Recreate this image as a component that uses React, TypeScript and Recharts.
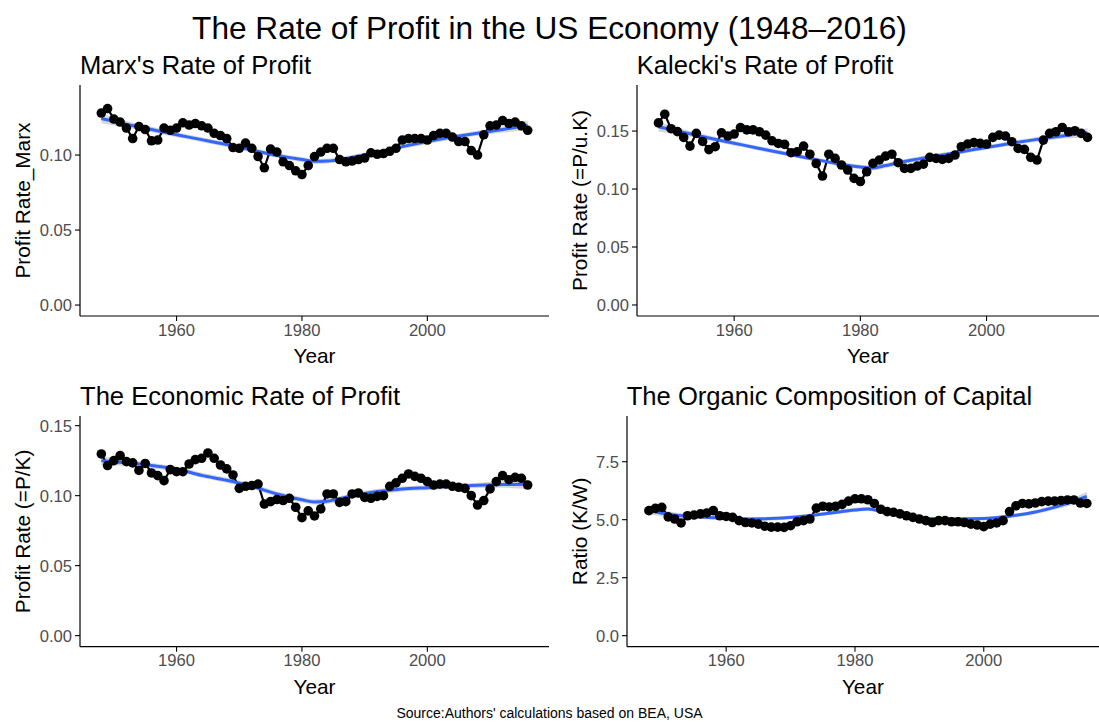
import { ComposedChart, Line, Area, XAxis, YAxis } from 'recharts'

const YEARS = Array.from({ length: 69 }, (_, i) => 1948 + i)

// Marx's rate of profit
const MARX = [
  0.128, 0.131, 0.124, 0.122, 0.118, 0.111, 0.119, 0.117, 0.1095, 0.11,
  0.118, 0.1165, 0.118, 0.1215, 0.12, 0.121, 0.1195, 0.118, 0.1145, 0.113,
  0.111, 0.105, 0.1045, 0.108, 0.1045, 0.099, 0.0915, 0.104, 0.102, 0.0955,
  0.093, 0.0895, 0.087, 0.093, 0.099, 0.102, 0.1045, 0.1045, 0.097, 0.0955,
  0.096, 0.097, 0.098, 0.1015, 0.1005, 0.101, 0.1025, 0.1045, 0.11, 0.111,
  0.111, 0.111, 0.11, 0.113, 0.1145, 0.1145, 0.112, 0.109, 0.109, 0.103,
  0.1, 0.1135, 0.1195, 0.12, 0.123, 0.121, 0.122, 0.1195, 0.1165,
]

// Kalecki's rate of profit
const KALECKI = [
  0.157, 0.1645, 0.152, 0.1495, 0.1445, 0.137, 0.148, 0.141, 0.134, 0.1365,
  0.1485, 0.1457, 0.1474, 0.153, 0.151, 0.151, 0.1494, 0.1465, 0.1416, 0.1393,
  0.1385, 0.1313, 0.1322, 0.137, 0.13, 0.122, 0.1112, 0.13, 0.1264, 0.1207,
  0.1164, 0.1092, 0.1065, 0.1149, 0.1221, 0.125, 0.1284, 0.13, 0.1227, 0.1178,
  0.1178, 0.1198, 0.1215, 0.1273, 0.1264, 0.1255, 0.1264, 0.1293, 0.1365, 0.1388,
  0.14, 0.1394, 0.1388, 0.1445, 0.1465, 0.1457, 0.1408, 0.135, 0.1342, 0.1273,
  0.125, 0.1422, 0.148, 0.1494, 0.1531, 0.1494, 0.1503, 0.148, 0.1445,
]

// economic rate of profit
const ECONOMIC = [
  0.1298, 0.1215, 0.125, 0.1286, 0.1243, 0.1234, 0.118, 0.123, 0.1162, 0.1143,
  0.1107, 0.1186, 0.1171, 0.1171, 0.1226, 0.1257, 0.1267, 0.1305, 0.1267, 0.1219,
  0.1191, 0.1148, 0.1052, 0.1067, 0.1072, 0.1083, 0.094, 0.0957, 0.0972, 0.0965,
  0.0981, 0.0917, 0.0843, 0.0891, 0.0855, 0.0905, 0.1012, 0.1012, 0.0952, 0.0957,
  0.1012, 0.1019, 0.0988, 0.0981, 0.0995, 0.1, 0.1067, 0.1091, 0.1124, 0.1155,
  0.1138, 0.1124, 0.11, 0.1076, 0.1083, 0.1083, 0.1067, 0.106, 0.1052, 0.1,
  0.0933, 0.0965, 0.1048, 0.11, 0.1143, 0.1114, 0.1131, 0.1124, 0.1076,
]

// organic composition of capital (K/W)
const OCC = [
  5.39, 5.49, 5.53, 5.12, 5.03, 4.86, 5.17, 5.2, 5.25, 5.29,
  5.39, 5.17, 5.14, 5.1, 4.96, 4.88, 4.86, 4.81, 4.72, 4.68,
  4.68, 4.67, 4.74, 4.91, 4.96, 5.03, 5.5, 5.58, 5.55, 5.58,
  5.66, 5.8, 5.9, 5.9, 5.86, 5.7, 5.45, 5.35, 5.32, 5.25,
  5.17, 5.1, 5.03, 4.96, 4.88, 4.96, 4.96, 4.91, 4.91, 4.88,
  4.81, 4.77, 4.7, 4.81, 4.86, 4.96, 5.35, 5.6, 5.7, 5.68,
  5.72, 5.78, 5.8, 5.8, 5.83, 5.85, 5.85, 5.72, 5.7,
]

// smoothed fit (blue line) read at a few years, with half-width of the grey band
const SMOOTH_YEARS = [1948, 1952, 1956, 1960, 1964, 1968, 1972, 1976, 1980, 1982, 1984, 1988, 1992, 1996, 2000, 2004, 2008, 2012, 2016]
const SMOOTH_MARX = [0.1244, 0.1205, 0.117, 0.1135, 0.1103, 0.107, 0.1033, 0.0998, 0.097, 0.0958, 0.096, 0.0985, 0.1018, 0.1056, 0.109, 0.112, 0.1145, 0.117, 0.1198]
const SE_MARX = [0.0032, 0.0022, 0.0018, 0.0017, 0.0016, 0.0016, 0.0016, 0.0016, 0.0017, 0.0017, 0.0017, 0.0016, 0.0016, 0.0016, 0.0016, 0.0016, 0.0017, 0.002, 0.0032]
const SMOOTH_KALECKI = [0.1537, 0.1488, 0.144, 0.1395, 0.135, 0.1307, 0.1264, 0.1222, 0.119, 0.1182, 0.1202, 0.1248, 0.1285, 0.1322, 0.1358, 0.1395, 0.1428, 0.1458, 0.1485]
const SE_KALECKI = [0.004, 0.0027, 0.0022, 0.002, 0.0019, 0.0019, 0.0019, 0.0019, 0.002, 0.002, 0.002, 0.0019, 0.0019, 0.0019, 0.0019, 0.0019, 0.002, 0.0025, 0.004]
const SMOOTH_ECONOMIC = [0.125, 0.1235, 0.1215, 0.119, 0.1145, 0.111, 0.1067, 0.1012, 0.097, 0.0955, 0.096, 0.1, 0.1029, 0.1048, 0.1057, 0.1066, 0.1074, 0.1079, 0.1082]
const SE_ECONOMIC = [0.0032, 0.0022, 0.0019, 0.0018, 0.0018, 0.0018, 0.0018, 0.0018, 0.0019, 0.0019, 0.0019, 0.0018, 0.0018, 0.0018, 0.0018, 0.0018, 0.0019, 0.0023, 0.0034]
const SMOOTH_OCC = [5.4, 5.2, 5.12, 5.06, 5.03, 5.06, 5.15, 5.28, 5.42, 5.46, 5.36, 5.16, 5.04, 5.03, 5.05, 5.15, 5.33, 5.62, 6.0]
const SE_OCC = [0.18, 0.11, 0.09, 0.08, 0.08, 0.08, 0.08, 0.08, 0.09, 0.09, 0.09, 0.08, 0.08, 0.08, 0.08, 0.08, 0.09, 0.12, 0.19]

const X_TICKS = [1960, 1980, 2000]
const RATE_TICKS = [0, 0.05, 0.1, 0.15]
const OCC_TICKS = [0, 2.5, 5, 7.5]

const FONT = '"Liberation Sans", Arial, Helvetica, sans-serif'
const TICK_STYLE = { fontSize: 16.6, fill: '#4d4d4d', fontFamily: FONT }

interface PanelProps {
  plotLeft: number
  plotTop: number
  plotRight: number
  plotBottom: number
  xMax: number
  values: number[]
  smooth: number[]
  se: number[]
  yDomain: [number, number]
  yTicks: number[]
  digits: number
}

function Panel({ plotLeft, plotTop, plotRight, plotBottom, xMax, values, smooth, se, yDomain, yTicks, digits }: PanelProps) {
  const yw = 80
  const mt = 25
  const xh = 44
  const left = plotLeft - yw
  const top = plotTop - mt
  const width = plotRight - left
  const height = plotBottom - top + xh
  const points = YEARS.map((year, i) => ({ year, v: values[i] }))
  const fit = SMOOTH_YEARS.map((year, i) => ({
    year,
    s: smooth[i],
    band: [smooth[i] - se[i], smooth[i] + se[i]],
  }))
  return (
    <div style={{ position: 'absolute', left, top }}>
      <ComposedChart width={width} height={height} margin={{ top: mt, right: 0, bottom: 0, left: 0 }}>
        <XAxis
          type="number"
          dataKey="year"
          domain={[1944.6, xMax]}
          allowDataOverflow
          ticks={X_TICKS}
          interval={0}
          height={xh}
          tick={TICK_STYLE}
          tickSize={5}
          tickMargin={3}
          axisLine={{ stroke: '#000', strokeWidth: 1.2 }}
          tickLine={{ stroke: '#000', strokeWidth: 1.1 }}
        />
        <YAxis
          type="number"
          domain={yDomain}
          allowDataOverflow
          ticks={yTicks}
          interval={0}
          width={yw}
          tickFormatter={(v: number) => v.toFixed(digits)}
          tick={TICK_STYLE}
          tickSize={5}
          tickMargin={3}
          axisLine={{ stroke: '#000', strokeWidth: 1.2 }}
          tickLine={{ stroke: '#000', strokeWidth: 1.1 }}
        />
        <Line
          data={points}
          dataKey="v"
          type="linear"
          stroke="#000"
          strokeWidth={2.2}
          dot={{ r: 4.8, fill: '#000', stroke: 'none' }}
          isAnimationActive={false}
        />
        <Area
          data={fit}
          dataKey="band"
          type="monotone"
          stroke="none"
          fill="#999999"
          fillOpacity={0.4}
          isAnimationActive={false}
        />
        <Line
          data={fit}
          dataKey="s"
          type="monotone"
          stroke="#3366FF"
          strokeWidth={3}
          dot={false}
          isAnimationActive={false}
        />
      </ComposedChart>
    </div>
  )
}

export default function App() {
  return (
    <div style={{ position: 'absolute', left: 0, top: 0, width: 1099, height: 722, background: '#fff', overflow: 'hidden', fontFamily: FONT }}>
      <Panel plotLeft={80} plotTop={85} plotRight={549} plotBottom={316} xMax={2019.4}
        values={MARX} smooth={SMOOTH_MARX} se={SE_MARX} yDomain={[-0.0073, 0.1467]} yTicks={[0, 0.05, 0.1]} digits={2} />
      <Panel plotLeft={636.7} plotTop={85} plotRight={1099} plotBottom={316} xMax={2017.87}
        values={KALECKI} smooth={SMOOTH_KALECKI} se={SE_KALECKI} yDomain={[-0.0095, 0.1897]} yTicks={RATE_TICKS} digits={2} />
      <Panel plotLeft={80} plotTop={416} plotRight={549} plotBottom={646.7} xMax={2019.4}
        values={ECONOMIC} smooth={SMOOTH_ECONOMIC} se={SE_ECONOMIC} yDomain={[-0.0079, 0.1569]} yTicks={RATE_TICKS} digits={2} />
      <Panel plotLeft={626.7} plotTop={416} plotRight={1099} plotBottom={646.7} xMax={2017.94}
        values={OCC} smooth={SMOOTH_OCC} se={SE_OCC} yDomain={[-0.474, 9.47]} yTicks={OCC_TICKS} digits={1} />
      <svg width={1099} height={722} style={{ position: 'absolute', left: 0, top: 0, pointerEvents: 'none' }} fontFamily={FONT} fill="#000">
        <text x={549.5} y={39} fontSize={31.6} textAnchor="middle">The Rate of Profit in the US Economy (1948–2016)</text>
        <text x={80} y={74} fontSize={25.6}>Marx's Rate of Profit</text>
        <text x={636.7} y={74} fontSize={25.6}>Kalecki's Rate of Profit</text>
        <text x={80} y={405} fontSize={25.6}>The Economic Rate of Profit</text>
        <text x={626.7} y={405} fontSize={25.6}>The Organic Composition of Capital</text>
        <text transform="translate(29.5,200.5) rotate(-90)" fontSize={20.8} textAnchor="middle">Profit Rate_Marx</text>
        <text transform="translate(586.7,200.5) rotate(-90)" fontSize={20.8} textAnchor="middle">Profit Rate (=P/u.K)</text>
        <text transform="translate(29.5,531.4) rotate(-90)" fontSize={20.8} textAnchor="middle">Profit Rate (=P/K)</text>
        <text transform="translate(586.7,531.4) rotate(-90)" fontSize={20.8} textAnchor="middle">Ratio (K/W)</text>
        <text x={314.5} y={363} fontSize={20.8} textAnchor="middle">Year</text>
        <text x={867.9} y={363} fontSize={20.8} textAnchor="middle">Year</text>
        <text x={314.5} y={694} fontSize={20.8} textAnchor="middle">Year</text>
        <text x={862.9} y={694} fontSize={20.8} textAnchor="middle">Year</text>
        <text x={549.5} y={718} fontSize={14} textAnchor="middle">Source:Authors' calculations based on BEA, USA</text>
      </svg>
    </div>
  )
}
